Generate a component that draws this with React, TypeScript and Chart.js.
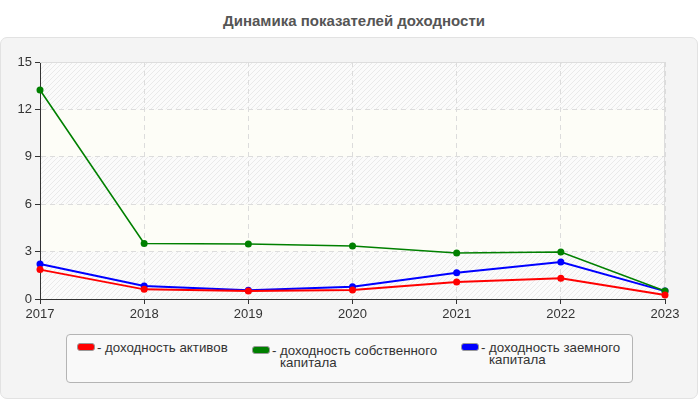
import { useEffect, useRef } from "react"
import { Chart, registerables } from "chart.js"

Chart.register(...registerables)

const years = ["2017", "2018", "2019", "2020", "2021", "2022", "2023"]
const assetsReturn = [1.86, 0.61, 0.5, 0.57, 1.08, 1.31, 0.25]
const equityReturn = [13.23, 3.51, 3.48, 3.35, 2.91, 2.97, 0.5]
const debtReturn = [2.22, 0.82, 0.55, 0.78, 1.66, 2.34, 0.5]
const yTicks = [0, 3, 6, 9, 12, 15]

const legendItems = [
  { color: "#ff0000", text: "доходность активов", left: 77, top: 342, width: 140 },
  { color: "#008000", text: "доходность собственного капитала", left: 252, top: 345, width: 165 },
  { color: "#0000ff", text: "доходность заемного капитала", left: 461, top: 342, width: 140 },
]

const font = "Arial, 'Liberation Sans', sans-serif"

function makeHatch(ctx: CanvasRenderingContext2D) {
  const c = document.createElement("canvas")
  c.width = 5
  c.height = 5
  const g = c.getContext("2d")!
  g.fillStyle = "#fbfbfb"
  g.fillRect(0, 0, 5, 5)
  g.strokeStyle = "#eaeaea"
  g.lineWidth = 1
  g.beginPath()
  g.moveTo(0, 5)
  g.lineTo(5, 0)
  g.moveTo(-1, 1)
  g.lineTo(1, -1)
  g.moveTo(4, 6)
  g.lineTo(6, 4)
  g.stroke()
  return ctx.createPattern(c, "repeat")
}

// alternating hatched / plain bands between the y ticks
const bandsPlugin = {
  id: "bands",
  beforeDraw(chart: any) {
    const { ctx, chartArea, scales } = chart
    const y = scales.y
    const hatch = makeHatch(ctx)
    ctx.save()
    for (let i = 0; i < yTicks.length - 1; i++) {
      const top = y.getPixelForValue(yTicks[i + 1])
      const bottom = y.getPixelForValue(yTicks[i])
      ctx.fillStyle = i % 2 === 0 ? hatch : "#fdfdf7"
      ctx.fillRect(chartArea.left, top, chartArea.right - chartArea.left, bottom - top)
    }
    ctx.restore()
  },
  beforeDatasetsDraw(chart: any) {
    const { ctx, chartArea } = chart
    ctx.save()
    ctx.strokeStyle = "#dddddd"
    ctx.lineWidth = 1
    ctx.beginPath()
    ctx.moveTo(chartArea.left, chartArea.top + 0.5)
    ctx.lineTo(chartArea.right - 0.5, chartArea.top + 0.5)
    ctx.lineTo(chartArea.right - 0.5, chartArea.bottom)
    ctx.stroke()
    ctx.restore()
  },
}

export default function App() {
  const canvasRef = useRef<HTMLCanvasElement | null>(null)
  const chartRef = useRef<Chart | null>(null)

  useEffect(() => {
    if (!canvasRef.current) return
    const ctx = canvasRef.current.getContext("2d")
    if (!ctx) return
    if (chartRef.current) chartRef.current.destroy()

    const ds = (label: string, data: number[], color: string, width: number) => ({
      label,
      data,
      borderColor: color,
      backgroundColor: color,
      borderWidth: width,
      pointRadius: 3.5,
      pointBorderWidth: 0,
      pointBackgroundColor: color,
      tension: 0,
    })

    chartRef.current = new Chart(ctx, {
      type: "line",
      data: {
        labels: years,
        datasets: [
          ds("доходность активов", assetsReturn, "#ff0000", 2),
          ds("доходность собственного капитала", equityReturn, "#008000", 1.6),
          ds("доходность заемного капитала", debtReturn, "#0000ff", 2),
        ],
      },
      options: {
        responsive: false,
        animation: false,
        layout: { padding: { top: 62, right: 35, left: 0, bottom: 0 } },
        plugins: {
          legend: { display: false },
          tooltip: { enabled: false },
        },
        scales: {
          x: {
            offset: false,
            afterFit: (s: any) => {
              s.height = 101
            },
            grid: { color: "#dcdcdc", tickColor: "#333", tickLength: 5 },
            border: { color: "#333", width: 1, dash: [5, 4] },
            ticks: { color: "#333", font: { size: 13, family: font }, maxRotation: 0, padding: 3 },
          },
          y: {
            min: 0,
            max: 15,
            afterFit: (s: any) => {
              s.width = 40
            },
            grid: { color: "#dcdcdc", tickColor: "#333", tickLength: 5 },
            border: { color: "#333", width: 1, dash: [5, 4] },
            ticks: { stepSize: 3, color: "#333", font: { size: 13, family: font }, padding: 3 },
          },
        },
      },
      plugins: [bandsPlugin],
    })

    return () => {
      if (chartRef.current) {
        chartRef.current.destroy()
        chartRef.current = null
      }
    }
  }, [])

  return (
    <div style={{ position: "absolute", left: 0, top: 0, width: 700, height: 400, background: "#fff", fontFamily: font }}>
      <div
        style={{
          position: "absolute",
          top: 12,
          left: 0,
          width: 708,
          textAlign: "center",
          fontWeight: "bold",
          fontSize: 15,
          lineHeight: "18px",
          color: "#555",
        }}
      >
        Динамика показателей доходности
      </div>
      <div
        style={{
          position: "absolute",
          top: 37,
          left: 0,
          width: 696,
          height: 360,
          background: "#f4f4f4",
          border: "1px solid #e2e2e2",
          borderRadius: 7,
        }}
      />
      <canvas ref={canvasRef} width={700} height={400} style={{ position: "absolute", left: 0, top: 0, width: 700, height: 400 }} />
      <div
        style={{
          position: "absolute",
          left: 66,
          top: 334,
          width: 565,
          height: 47,
          background: "#f9f9f9",
          border: "1px solid #b4b4b4",
          borderRadius: 4,
        }}
      />
      {legendItems.map((it) => (
        <div
          key={it.text}
          style={{ position: "absolute", left: it.left, top: it.top, display: "flex", alignItems: "flex-start", color: "#333", fontSize: 13.3, lineHeight: "12px" }}
        >
          <span
            style={{
              display: "inline-block",
              flex: "none",
              width: 16,
              height: 6,
              background: it.color,
              border: "1px solid #999",
              borderRadius: 3,
              marginTop: 1,
            }}
          />
          <span style={{ marginLeft: 2, width: 8, flex: "none" }}>-</span>
          <span style={{ width: it.width }}>{it.text}</span>
        </div>
      ))}
    </div>
  )
}
